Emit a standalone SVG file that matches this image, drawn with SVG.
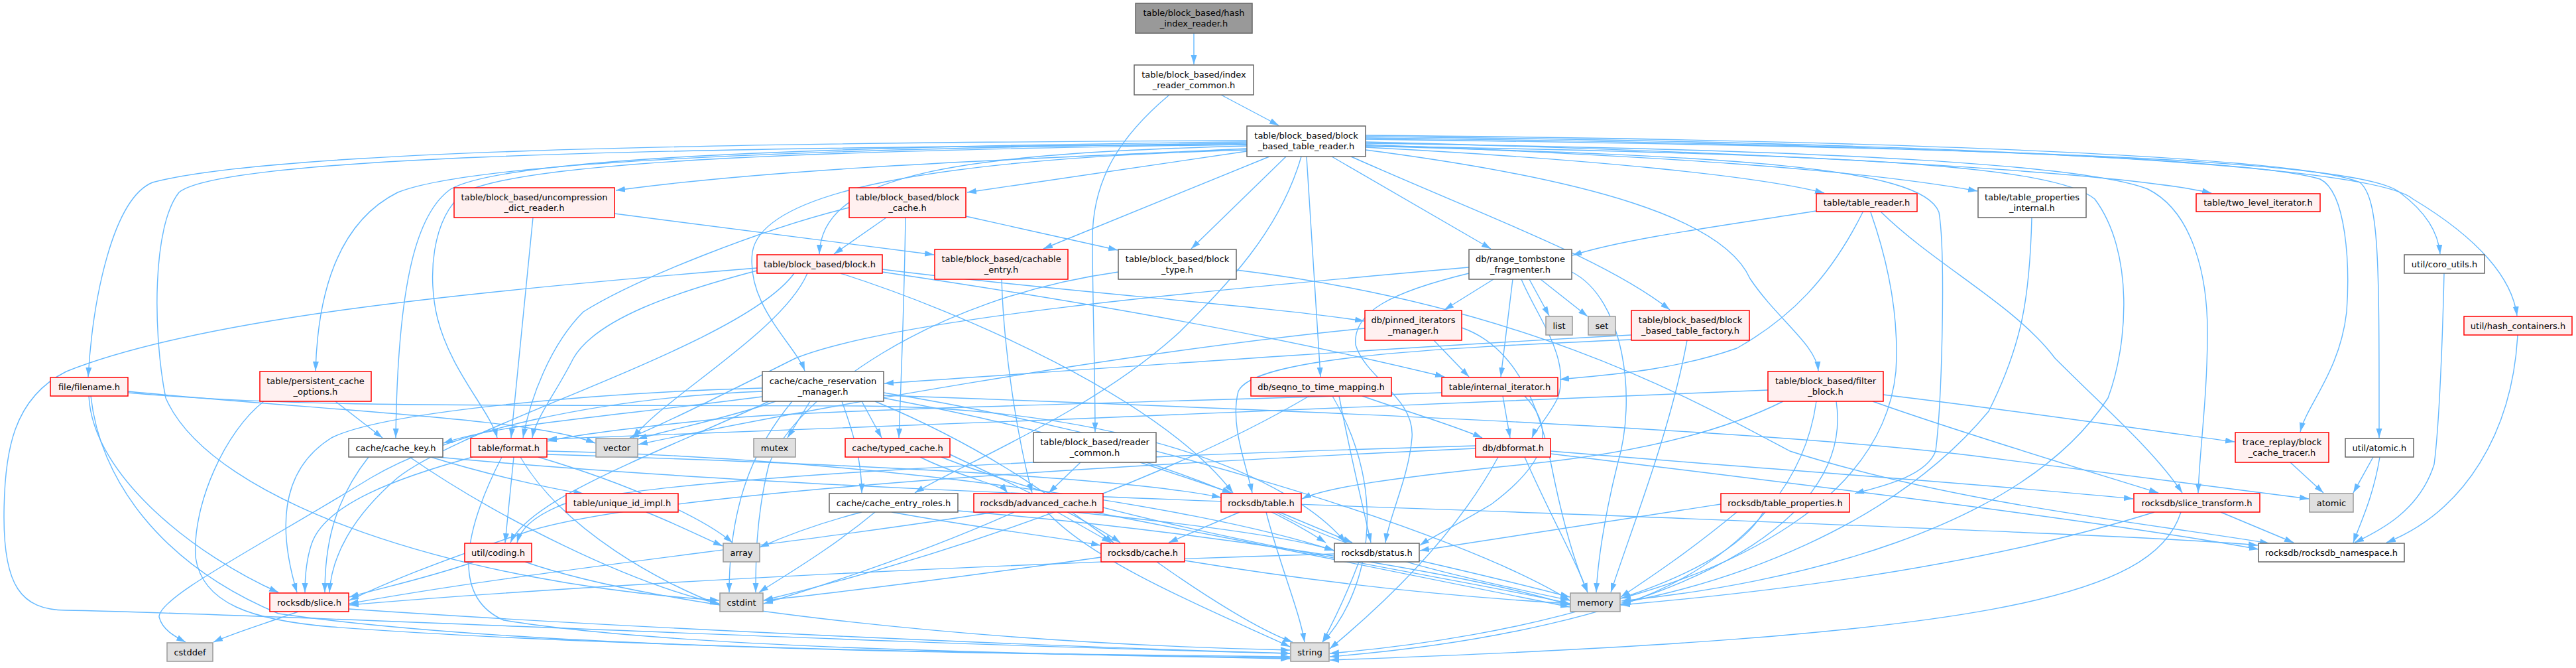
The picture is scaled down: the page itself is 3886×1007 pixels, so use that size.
<svg xmlns="http://www.w3.org/2000/svg" width="3886" height="1007" viewBox="0 0 3886 1007">
<style>
.e path{fill:none;stroke:#63b8ff;stroke-width:1.4;marker-end:url(#ah)}
.n rect{stroke-width:1.5}
.nr rect{fill:#fff0f0;stroke:#ff0000}
.nw rect{fill:#ffffff;stroke:#666666}
.ng rect{fill:#e0e0e0;stroke:#999999}
.nt rect{fill:#999999;stroke:#666666}
text{font-family:"DejaVu Sans","Liberation Sans",sans-serif;font-size:13px;text-anchor:middle;fill:#000}
</style>
<defs>
<marker id="ah" markerUnits="userSpaceOnUse" markerWidth="15" markerHeight="10" refX="14" refY="5" orient="auto"><path d="M0,0.5 L14,5 L0,9.5 z" fill="#63b8ff"/></marker>
</defs>
<rect width="3886" height="1007" fill="#ffffff"/>
<g id="connectors" class="e">
<path d="M1801,50 L1801,97"/>
<path d="M1842,143 L1929,189"/>
<path d="M1764,143 C1690,205 1648,270 1648,360 C1648,450 1652,560 1652,651"/>
<path d="M1881,224 C1600,238 1200,250 929,287"/>
<path d="M1881,228 L1459,290"/>
<path d="M2060,222 C2400,240 2650,265 2752,291"/>
<path d="M2060,218 C2500,235 2800,255 2983,288"/>
<path d="M2060,214 C2700,230 3200,260 3336,291"/>
<path d="M1881,220 C1450,232 1240,260 1236,383"/>
<path d="M1915,236 L1574,375"/>
<path d="M1940,236 L1797,375"/>
<path d="M2009,236 L2249,375"/>
<path d="M2060,210 C3000,222 3560,240 3620,290 C3660,320 3678,350 3681,383"/>
<path d="M1881,212 C1000,215 400,230 230,275 C170,300 140,450 133,568"/>
<path d="M1881,216 C1100,225 700,250 600,290 C520,330 480,420 476,559"/>
<path d="M1881,226 C1400,240 1150,290 1135,380 C1125,460 1200,520 1214,559"/>
<path d="M2038,236 C2250,330 2420,390 2519,467"/>
<path d="M2060,206 C3000,215 3580,250 3640,300 C3740,360 3790,420 3797,476"/>
<path d="M1971,236 L1992,568"/>
<path d="M2060,226 C2400,270 2600,330 2640,420 C2680,480 2740,520 2743,559"/>
<path d="M1881,214 C1100,222 750,245 680,285 C630,320 600,420 597,660"/>
<path d="M1881,218 C1100,228 780,250 700,290 C650,330 645,420 660,480 C680,560 740,620 750,660"/>
<path d="M2060,208 C2900,218 3400,240 3500,270 C3540,290 3545,400 3540,470 C3530,560 3480,610 3470,651"/>
<path d="M2060,204 C2950,212 3480,240 3560,275 C3590,300 3589,400 3589,660"/>
<path d="M1963,236 C1930,350 1850,430 1780,500 C1650,620 1450,700 1380,743"/>
<path d="M2060,220 C2600,235 2900,250 2925,320 C2935,380 2930,600 2920,680 C2905,720 2830,735 2798,744"/>
<path d="M2060,216 C2800,226 3150,250 3240,285 C3310,320 3330,420 3330,500 C3330,600 3318,680 3316,743"/>
<path d="M1881,218 C900,222 330,240 270,290 C230,340 230,500 250,600 C320,760 700,880 1085,905"/>
<path d="M2060,220 C2800,232 3100,250 3160,300 C3220,380 3210,520 3180,600 C3050,800 2700,880 2446,906"/>
<path d="M927,322 L1409,384"/>
<path d="M804,328 L771,660"/>
<path d="M1337,328 L1258,383"/>
<path d="M1281,313 C1150,345 960,420 880,470 C830,520 800,600 789,660"/>
<path d="M1457,326 L1686,377"/>
<path d="M1366,328 C1364,450 1360,560 1356,660"/>
<path d="M2740,318 C2600,340 2450,360 2372,385"/>
<path d="M2810,320 C2760,420 2700,480 2620,525 C2520,560 2420,565 2353,572"/>
<path d="M2838,320 C2920,400 3040,460 3100,540 C3180,620 3250,680 3292,743"/>
<path d="M2822,320 C2850,400 2865,480 2860,560 C2840,760 2600,860 2446,902"/>
<path d="M3065,328 C3062,450 3050,520 3000,620 C2850,800 2600,880 2446,909"/>
<path d="M1331,406 C1600,440 1900,460 2058,484"/>
<path d="M1331,410 C1600,450 1900,500 2179,568"/>
<path d="M1142,408 C1020,440 900,480 865,540 C840,590 808,630 803,660"/>
<path d="M1218,412 C1180,500 1000,600 955,660"/>
<path d="M1198,412 C1120,520 700,640 600,720 C530,780 500,840 497,893"/>
<path d="M1142,404 C700,440 300,480 100,560 C20,600 6,680 6,780 C6,880 30,920 100,920 C400,925 1300,970 1946,985"/>
<path d="M1268,412 C1450,470 1750,600 1860,743"/>
<path d="M1511,421 C1515,550 1540,680 1557,743"/>
<path d="M1687,410 C1400,450 1200,600 1160,700 C1140,780 1140,850 1140,893"/>
<path d="M1865,407 C2300,460 2550,600 2700,680 C2950,760 3250,790 3423,819"/>
<path d="M2253,421 L2179,467"/>
<path d="M2307,421 L2337,476"/>
<path d="M2324,421 L2395,477"/>
<path d="M2282,421 L2264,568"/>
<path d="M2295,421 C2320,480 2370,540 2350,600 C2335,630 2315,650 2311,660"/>
<path d="M2216,412 C2100,440 2040,470 2045,520 C2060,570 2135,600 2130,660 C2125,720 2095,780 2090,818"/>
<path d="M2216,403 C1800,440 1350,480 1200,540 C1100,590 1000,640 950,660"/>
<path d="M2371,410 C2450,450 2470,600 2440,700 C2420,780 2410,850 2408,893"/>
<path d="M3687,412 C3685,500 3680,640 3672,700 C3650,770 3590,800 3552,818"/>
<path d="M193,590 C500,620 800,630 898,668"/>
<path d="M193,592 C450,615 700,610 1300,612 C1700,615 1950,720 2030,818"/>
<path d="M134,597 C140,720 300,840 420,893"/>
<path d="M137,597 C150,720 240,850 420,925 C800,980 1500,985 1946,990"/>
<path d="M506,605 L577,660"/>
<path d="M398,605 C340,650 290,760 295,840 C305,910 380,935 500,945 C900,975 1500,985 1946,992"/>
<path d="M1150,585 C900,592 580,620 500,660 C420,710 420,800 448,893"/>
<path d="M1150,598 C900,630 750,640 669,668"/>
<path d="M1170,605 C1100,630 1000,650 962,662"/>
<path d="M1222,605 L1188,660"/>
<path d="M1150,590 C900,600 680,650 560,720 C380,830 240,900 240,930 C245,950 265,960 280,968"/>
<path d="M1270,605 C1290,660 1300,700 1300,743"/>
<path d="M1300,605 L1330,660"/>
<path d="M1195,605 C1150,660 1100,740 1100,893"/>
<path d="M1333,592 C1700,650 2200,800 2368,905"/>
<path d="M1333,600 C1600,650 1850,720 2000,818"/>
<path d="M1320,605 C1500,680 1600,760 1680,818"/>
<path d="M1160,605 C1000,680 800,750 770,818"/>
<path d="M1333,596 C2000,620 2700,650 3000,690 C3200,715 3400,740 3483,752"/>
<path d="M2163,513 L2216,568"/>
<path d="M2205,494 C2280,520 2320,600 2340,700 C2360,800 2380,860 2395,893"/>
<path d="M2059,495 C1700,530 1200,620 963,670"/>
<path d="M2461,505 C2000,530 1600,560 1334,578"/>
<path d="M2461,512 C2150,525 1890,540 1868,590 C1855,640 1880,700 1889,743"/>
<path d="M2545,513 C2520,650 2460,800 2430,893"/>
<path d="M3798,505 C3790,650 3720,770 3600,818"/>
<path d="M2055,597 C2120,620 2190,640 2236,660"/>
<path d="M2020,597 C2040,700 2060,780 2068,818"/>
<path d="M2010,597 C2100,750 2060,900 1995,968"/>
<path d="M1975,597 C1800,700 1500,820 1152,905"/>
<path d="M2267,597 L2278,660"/>
<path d="M2300,597 C2350,650 2330,700 2250,760 C2200,790 2160,810 2142,822"/>
<path d="M2175,592 C1800,605 1300,615 1100,630 C950,645 870,655 826,665"/>
<path d="M2841,595 C3050,620 3250,650 3371,666"/>
<path d="M2825,605 C2950,650 3150,710 3256,743"/>
<path d="M2667,588 C2200,610 1400,640 826,662"/>
<path d="M2690,605 C2620,640 2500,680 2300,700 C2100,720 2000,735 1964,752"/>
<path d="M2740,605 C2720,750 2600,860 2446,912"/>
<path d="M2770,605 C2800,800 2500,950 2006,990"/>
<path d="M556,689 C500,760 490,830 490,893"/>
<path d="M618,689 C750,780 950,880 1085,910"/>
<path d="M650,689 C750,720 850,740 880,744"/>
<path d="M660,689 C1200,740 2000,760 2500,780 C3000,800 3300,812 3406,822"/>
<path d="M713,689 C600,720 490,760 470,820 C460,850 460,880 460,893"/>
<path d="M775,689 L762,818"/>
<path d="M785,689 C850,800 1000,880 1086,912"/>
<path d="M812,689 C950,730 1060,780 1105,818"/>
<path d="M757,689 C700,800 680,900 760,935 C1000,975 1500,985 1946,993"/>
<path d="M825,685 C1300,700 1700,720 1842,750"/>
<path d="M825,680 C1300,690 1800,760 2012,830"/>
<path d="M1388,689 C1450,720 1510,730 1520,743"/>
<path d="M1433,685 C1550,740 1650,790 1690,818"/>
<path d="M1420,689 C1700,800 2200,870 2368,910"/>
<path d="M1630,697 L1582,743"/>
<path d="M1720,697 L1858,743"/>
<path d="M2226,676 C1700,700 1000,740 800,800 C650,850 580,880 527,905"/>
<path d="M2226,672 C1600,690 1000,720 850,760 C800,780 785,800 780,818"/>
<path d="M2339,680 C2700,710 3000,730 3218,752"/>
<path d="M2300,689 C2340,780 2380,850 2395,893"/>
<path d="M2260,689 C2200,800 2100,900 2006,978"/>
<path d="M2339,684 C2800,740 3200,790 3407,828"/>
<path d="M3455,697 L3505,743"/>
<path d="M3580,689 L3550,743"/>
<path d="M3590,689 C3580,750 3560,790 3550,818"/>
<path d="M975,772 C1020,790 1060,810 1090,823"/>
<path d="M1300,772 C1230,790 1180,810 1146,825"/>
<path d="M1320,772 C1250,830 1180,870 1145,893"/>
<path d="M1345,772 C1500,800 1600,810 1660,822"/>
<path d="M1445,770 C1800,800 2200,860 2368,912"/>
<path d="M1595,772 L1676,818"/>
<path d="M1620,772 C1800,790 1950,810 2013,830"/>
<path d="M1650,772 C1900,820 2200,880 2368,915"/>
<path d="M1580,772 C1650,850 1850,930 1946,975"/>
<path d="M1500,772 C1200,820 800,860 527,910"/>
<path d="M1530,772 C1400,830 1250,880 1152,910"/>
<path d="M1870,772 L1763,818"/>
<path d="M1930,772 L2040,818"/>
<path d="M1910,772 C1930,850 1960,920 1968,968"/>
<path d="M1925,772 C2050,840 2250,880 2368,905"/>
<path d="M2596,760 C2400,790 2200,820 2142,830"/>
<path d="M2620,772 C2550,830 2490,870 2445,900"/>
<path d="M2660,772 C2600,880 2300,960 2006,985"/>
<path d="M3350,772 L3460,818"/>
<path d="M3250,772 C3000,850 2700,890 2445,912"/>
<path d="M3290,772 C3250,900 3000,960 2006,995"/>
<path d="M715,847 C650,870 580,885 527,900"/>
<path d="M792,847 C1000,920 1500,970 1946,980"/>
<path d="M1661,840 C1450,870 1250,895 1152,905"/>
<path d="M1787,845 C2000,880 2200,900 2368,910"/>
<path d="M1745,847 C1820,900 1900,950 1950,968"/>
<path d="M2141,845 C2250,870 2330,890 2368,900"/>
<path d="M2050,847 C2030,900 2010,940 1995,968"/>
<path d="M2013,835 C1500,850 900,880 527,912"/>
<path d="M450,922 C400,940 350,955 322,968"/>
<path d="M526,918 C1000,950 1600,975 1946,985"/>
</g>
<g id="n0" class="n nt"><rect x="1713" y="5" width="176" height="45"/><text x="1801" y="23.5">table/block_based/hash</text><text x="1801" y="40">_index_reader.h</text></g>
<g id="n1" class="n nw"><rect x="1711" y="98" width="180" height="45"/><text x="1801" y="116.5">table/block_based/index</text><text x="1801" y="133">_reader_common.h</text></g>
<g id="n2" class="n nw"><rect x="1881" y="190" width="179" height="46"/><text x="1970.5" y="208.5">table/block_based/block</text><text x="1970.5" y="225">_based_table_reader.h</text></g>
<g id="n3" class="n nr"><rect x="685" y="283" width="242" height="45"/><text x="806" y="301.5">table/block_based/uncompression</text><text x="806" y="318">_dict_reader.h</text></g>
<g id="n4" class="n nr"><rect x="1281" y="283" width="176" height="45"/><text x="1369" y="301.5">table/block_based/block</text><text x="1369" y="318">_cache.h</text></g>
<g id="n5" class="n nr"><rect x="2740" y="292" width="152" height="27"/><text x="2816" y="310">table/table_reader.h</text></g>
<g id="n6" class="n nw"><rect x="2984" y="283" width="163" height="45"/><text x="3065.5" y="301.5">table/table_properties</text><text x="3065.5" y="318">_internal.h</text></g>
<g id="n7" class="n nr"><rect x="3313" y="292" width="187" height="27"/><text x="3406.5" y="310">table/two_level_iterator.h</text></g>
<g id="n8" class="n nr"><rect x="1142" y="384" width="189" height="28"/><text x="1236.5" y="402.5">table/block_based/block.h</text></g>
<g id="n9" class="n nr"><rect x="1410" y="376" width="201" height="45"/><text x="1510.5" y="394.5">table/block_based/cachable</text><text x="1510.5" y="411">_entry.h</text></g>
<g id="n10" class="n nw"><rect x="1687" y="376" width="178" height="45"/><text x="1776" y="394.5">table/block_based/block</text><text x="1776" y="411">_type.h</text></g>
<g id="n11" class="n nw"><rect x="2216" y="376" width="155" height="45"/><text x="2293.5" y="394.5">db/range_tombstone</text><text x="2293.5" y="411">_fragmenter.h</text></g>
<g id="n12" class="n nw"><rect x="3627" y="384" width="121" height="28"/><text x="3687.5" y="402.5">util/coro_utils.h</text></g>
<g id="n13" class="n nr"><rect x="76" y="569" width="117" height="28"/><text x="134.5" y="587.5">file/filename.h</text></g>
<g id="n14" class="n nr"><rect x="392" y="560" width="168" height="45"/><text x="476" y="578.5">table/persistent_cache</text><text x="476" y="595">_options.h</text></g>
<g id="n15" class="n nw"><rect x="1150" y="560" width="183" height="45"/><text x="1241.5" y="578.5">cache/cache_reservation</text><text x="1241.5" y="595">_manager.h</text></g>
<g id="n16" class="n nr"><rect x="2059" y="468" width="146" height="45"/><text x="2132" y="486.5">db/pinned_iterators</text><text x="2132" y="503">_manager.h</text></g>
<g id="n17" class="n ng"><rect x="2332" y="477" width="40" height="28"/><text x="2352" y="495.5">list</text></g>
<g id="n18" class="n ng"><rect x="2396" y="477" width="41" height="28"/><text x="2416.5" y="495.5">set</text></g>
<g id="n19" class="n nr"><rect x="2461" y="468" width="178" height="45"/><text x="2550" y="486.5">table/block_based/block</text><text x="2550" y="503">_based_table_factory.h</text></g>
<g id="n20" class="n nr"><rect x="3717" y="477" width="163" height="28"/><text x="3798.5" y="495.5">util/hash_containers.h</text></g>
<g id="n21" class="n nr"><rect x="1887" y="569" width="212" height="28"/><text x="1993" y="587.5">db/seqno_to_time_mapping.h</text></g>
<g id="n22" class="n nr"><rect x="2175" y="569" width="175" height="28"/><text x="2262.5" y="587.5">table/internal_iterator.h</text></g>
<g id="n23" class="n nr"><rect x="2667" y="560" width="174" height="45"/><text x="2754" y="578.5">table/block_based/filter</text><text x="2754" y="595">_block.h</text></g>
<g id="n24" class="n nw"><rect x="526" y="661" width="142" height="28"/><text x="597" y="679.5">cache/cache_key.h</text></g>
<g id="n25" class="n nr"><rect x="710" y="661" width="115" height="28"/><text x="767.5" y="679.5">table/format.h</text></g>
<g id="n26" class="n ng"><rect x="899" y="661" width="63" height="28"/><text x="930.5" y="679.5">vector</text></g>
<g id="n27" class="n ng"><rect x="1137" y="661" width="63" height="28"/><text x="1168.5" y="679.5">mutex</text></g>
<g id="n28" class="n nr"><rect x="1275" y="661" width="158" height="28"/><text x="1354" y="679.5">cache/typed_cache.h</text></g>
<g id="n29" class="n nw"><rect x="1559" y="652" width="185" height="45"/><text x="1651.5" y="670.5">table/block_based/reader</text><text x="1651.5" y="687">_common.h</text></g>
<g id="n30" class="n nr"><rect x="2226" y="661" width="113" height="28"/><text x="2282.5" y="679.5">db/dbformat.h</text></g>
<g id="n31" class="n nr"><rect x="3372" y="652" width="141" height="45"/><text x="3442.5" y="670.5">trace_replay/block</text><text x="3442.5" y="687">_cache_tracer.h</text></g>
<g id="n32" class="n nw"><rect x="3538" y="661" width="103" height="28"/><text x="3589.5" y="679.5">util/atomic.h</text></g>
<g id="n33" class="n nr"><rect x="854" y="744" width="169" height="28"/><text x="938.5" y="762.5">table/unique_id_impl.h</text></g>
<g id="n34" class="n nw"><rect x="1251" y="744" width="194" height="28"/><text x="1348" y="762.5">cache/cache_entry_roles.h</text></g>
<g id="n35" class="n nr"><rect x="1469" y="744" width="195" height="28"/><text x="1566.5" y="762.5">rocksdb/advanced_cache.h</text></g>
<g id="n36" class="n nr"><rect x="1842" y="744" width="121" height="28"/><text x="1902.5" y="762.5">rocksdb/table.h</text></g>
<g id="n37" class="n nr"><rect x="2596" y="744" width="194" height="28"/><text x="2693" y="762.5">rocksdb/table_properties.h</text></g>
<g id="n38" class="n nr"><rect x="3219" y="744" width="190" height="28"/><text x="3314" y="762.5">rocksdb/slice_transform.h</text></g>
<g id="n39" class="n ng"><rect x="3484" y="744" width="66" height="28"/><text x="3517" y="762.5">atomic</text></g>
<g id="n40" class="n nr"><rect x="701" y="819" width="101" height="28"/><text x="751.5" y="837.5">util/coding.h</text></g>
<g id="n41" class="n ng"><rect x="1091" y="819" width="55" height="28"/><text x="1118.5" y="837.5">array</text></g>
<g id="n42" class="n nr"><rect x="1661" y="819" width="126" height="28"/><text x="1724" y="837.5">rocksdb/cache.h</text></g>
<g id="n43" class="n nw"><rect x="2013" y="819" width="128" height="28"/><text x="2077" y="837.5">rocksdb/status.h</text></g>
<g id="n44" class="n nw"><rect x="3407" y="819" width="220" height="28"/><text x="3517" y="837.5">rocksdb/rocksdb_namespace.h</text></g>
<g id="n45" class="n nr"><rect x="407" y="894" width="119" height="28"/><text x="466.5" y="912.5">rocksdb/slice.h</text></g>
<g id="n46" class="n ng"><rect x="1086" y="894" width="65" height="28"/><text x="1118.5" y="912.5">cstdint</text></g>
<g id="n47" class="n ng"><rect x="2369" y="894" width="75" height="28"/><text x="2406.5" y="912.5">memory</text></g>
<g id="n48" class="n ng"><rect x="252" y="969" width="69" height="28"/><text x="286.5" y="987.5">cstddef</text></g>
<g id="n49" class="n ng"><rect x="1947" y="969" width="58" height="28"/><text x="1976" y="987.5">string</text></g>
</svg>
